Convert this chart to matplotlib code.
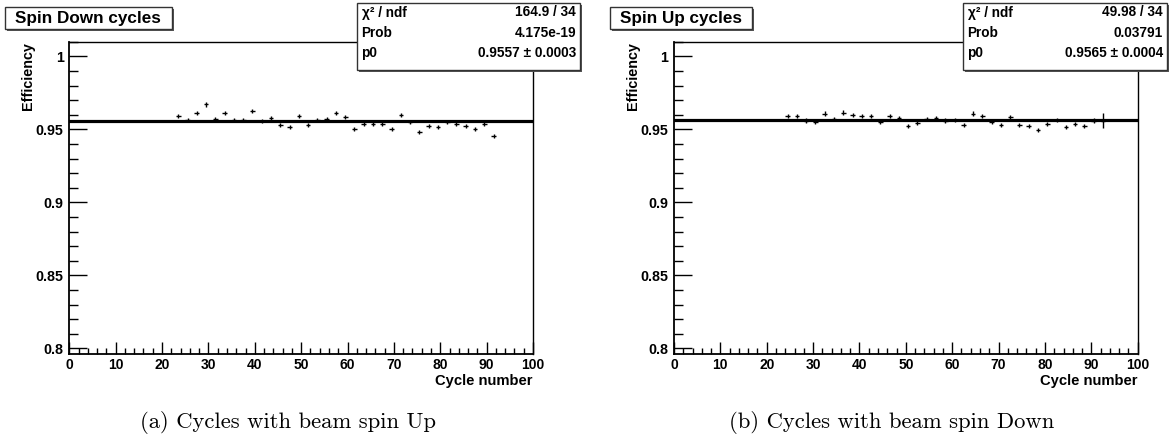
import matplotlib
matplotlib.use("Agg")
import matplotlib.pyplot as plt
from matplotlib.patches import Rectangle
from matplotlib.ticker import FixedLocator, MultipleLocator, FixedFormatter

# ---------------- data ----------------
left_x = [23.5, 25.5, 27.5, 29.5, 31.5, 33.5, 35.5, 37.5, 39.5, 41.5, 43.5, 45.5,
          47.5, 49.5, 51.5, 53.5, 55.5, 57.5, 59.5, 61.5, 63.5, 65.5, 67.5, 69.5,
          71.5, 73.5, 75.5, 77.5, 79.5, 81.5, 83.5, 85.5, 87.5, 89.5, 91.5]
left_y = [0.9593, 0.9564, 0.9609, 0.9670, 0.9568, 0.9614, 0.9564, 0.9564, 0.9627,
          0.9557, 0.9580, 0.9532, 0.9514, 0.9593, 0.9532, 0.9564, 0.9568, 0.9609,
          0.9582, 0.9500, 0.9536, 0.9536, 0.9536, 0.9500, 0.9600, 0.9550, 0.9480,
          0.9523, 0.9518, 0.9550, 0.9536, 0.9523, 0.9500, 0.9536, 0.9455]
left_err = [0.0014] * 35

right_x = [24.5, 26.5, 28.5, 30.5, 32.5, 34.5, 36.5, 38.5, 40.5, 42.5, 44.5, 46.5,
           48.5, 50.5, 52.5, 54.5, 56.5, 58.5, 60.5, 62.5, 64.5, 66.5, 68.5, 70.5,
           72.5, 74.5, 76.5, 78.5, 80.5, 82.5, 84.5, 86.5, 88.5, 90.5, 92.5]
right_y = [0.9590, 0.9590, 0.9560, 0.9548, 0.9608, 0.9571, 0.9615, 0.9599, 0.9594,
           0.9594, 0.9548, 0.9590, 0.9576, 0.9523, 0.9544, 0.9571, 0.9576, 0.9560,
           0.9564, 0.9528, 0.9608, 0.9594, 0.9548, 0.9528, 0.9585, 0.9528, 0.9523,
           0.9493, 0.9539, 0.9564, 0.9518, 0.9539, 0.9523, 0.9560, 0.9560]
right_err = [0.0014] * 34 + [0.0052]

left_fit = 0.9557
right_fit = 0.9565

titles = ["Spin Down cycles", "Spin Up cycles"]
stat_labels = ["χ² / ndf", "Prob", "p0"]
left_stats = ["164.9 / 34", "4.175e-19", "0.9557 ± 0.0003"]
right_stats = ["49.98 / 34", "0.03791", "0.9565 ± 0.0004"]
captions = ["(a) Cycles with beam spin Up", "(b) Cycles with beam spin Down"]
ytick_vals = [0.80, 0.85, 0.90, 0.95, 1.00]
ytick_labels = ["0.8", "0.85", "0.9", "0.95", "1"]
xtick_vals = [0, 10, 20, 30, 40, 50, 60, 70, 80, 90, 100]

# ---------------- layout ----------------
W, H = 1172, 437
fig = plt.figure(figsize=(W / 100, H / 100), dpi=100)
fig.patch.set_facecolor("white")
SANS = "Liberation Sans"


def fx(px):
    return px / W


def fy(py):
    return 1 - py / H


def box(x0, y0, x1, y1):
    # shadow
    fig.patches.append(Rectangle((fx(x0 + 2), fy(y1 + 2)), fx(x1 - x0), (y1 - y0) / H,
                                 transform=fig.transFigure, facecolor="#555555",
                                 edgecolor="none", zorder=5))
    fig.patches.append(Rectangle((fx(x0), fy(y1)), fx(x1 - x0), (y1 - y0) / H,
                                 transform=fig.transFigure, facecolor="white",
                                 edgecolor="#333333", linewidth=1.0, zorder=6))


panels = [
    # offset, data..., title box x-range, stat box x-range, caption centre
    (0.0, left_x, left_y, left_err, left_fit, left_stats, (4.7, 172.0), (357.0, 580.0), 287.5),
    (604.7, right_x, right_y, right_err, right_fit, right_stats, (609.5, 752.0), (963.0, 1167.0), 892.0),
]

for i, (off, xs, ys, es, fit, stats, tbx, sbx, capx) in enumerate(panels):
    ax_l, ax_r = 69.3 + off, 533.0 + off
    ax_t, ax_b = 41.7, 354.3
    ax = fig.add_axes([fx(ax_l), fy(ax_b), fx(ax_r - ax_l), (ax_b - ax_t) / H])
    ax.set_xlim(0, 100)
    ax.set_ylim(0.7959, 1.010)

    ax.errorbar(xs, ys, xerr=0.5, yerr=es, fmt="none", ecolor="black",
                elinewidth=1.0, capsize=0, zorder=3)
    ax.axhline(fit, color="black", linewidth=2.3, zorder=4)

    for s in ["top", "right"]:
        ax.spines[s].set_linewidth(1.0)
    for s in ["left", "bottom"]:
        ax.spines[s].set_linewidth(1.3)

    ax.yaxis.set_major_locator(FixedLocator(ytick_vals))
    ax.yaxis.set_major_formatter(FixedFormatter(ytick_labels))
    ax.yaxis.set_minor_locator(MultipleLocator(0.01))
    ax.xaxis.set_major_locator(FixedLocator(xtick_vals))
    ax.xaxis.set_minor_locator(MultipleLocator(2))

    ax.tick_params(axis="y", which="major", direction="in", length=13, width=1.0,
                   pad=4, labelsize=10.3, right=False)
    ax.tick_params(axis="y", which="minor", direction="in", length=6.5, width=1.0,
                   right=False)
    ax.tick_params(axis="x", which="major", direction="in", length=9, width=1.0,
                   pad=3, labelsize=10, top=False)
    ax.tick_params(axis="x", which="minor", direction="in", length=4, width=1.0,
                   top=False)
    for lab in ax.get_xticklabels() + ax.get_yticklabels():
        lab.set_fontfamily(SANS)
        lab.set_fontweight("bold")

    ax.set_ylabel("Efficiency", fontfamily=SANS, fontweight="bold", fontsize=10.4,
                  loc="top")
    ax.yaxis.set_label_coords((35.5 + off - ax_l) / (ax_r - ax_l), 1.0)
    ax.set_xlabel("Cycle number", fontfamily=SANS, fontweight="bold", fontsize=10.6,
                  loc="right", labelpad=1)

    # title box
    box(tbx[0], 6.7, tbx[1], 29.3)
    fig.text(fx((tbx[0] + tbx[1]) / 2), fy(18.3), titles[i], ha="center", va="center",
             fontfamily=SANS, fontweight="bold", fontsize=12.3, zorder=7)

    # stat box
    sx0, sx1 = sbx
    box(sx0, 3, sx1, 70)
    rows_y = [12.5, 33, 53]
    for lbl, val, ry in zip(stat_labels, stats, rows_y):
        fig.text(fx(sx0 + 4.5), fy(ry), lbl, ha="left", va="center",
                 fontfamily=SANS, fontweight="bold", fontsize=9.8, zorder=7)
        fig.text(fx(sx1 - 4), fy(ry), val, ha="right", va="center",
                 fontfamily=SANS, fontweight="bold", fontsize=9.8, zorder=7)

    # caption
    fig.text(fx(capx), fy(422), captions[i], ha="center", va="center",
             fontfamily="cmr10", fontsize=16.3)

fig.savefig("out.png", dpi=100, facecolor="white")
